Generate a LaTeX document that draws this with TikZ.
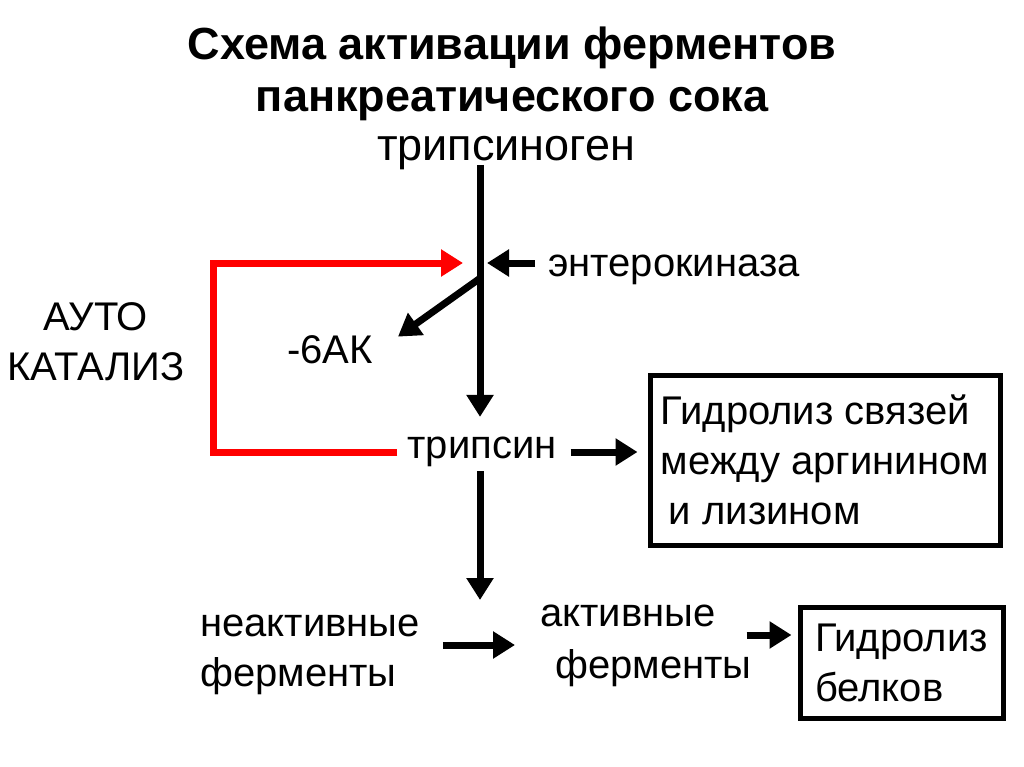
\documentclass[tikz,border=0pt]{standalone}
\usepackage{fontspec}
\setmainfont{Liberation Sans}
\usetikzlibrary{arrows.meta}

\begin{document}
\begin{tikzpicture}[x=1pt, y=-1pt,
  txt/.style={font=\fontsize{40}{50}\selectfont, inner sep=0pt},
  fleche/.style={line width=7pt, -{Triangle[length=22pt, width=26pt]}},
  retour/.style={fleche, red},
  cadre/.style={draw, line width=5pt, txt, align=left}]

\useasboundingbox (0,0) rectangle (1024,767);

% Titre
\node[font=\bfseries\fontsize{45}{52}\selectfont, align=center, inner sep=0pt] (titre) at (512,74) {Схема активации ферментов\\панкреатического сока};

% Les nœuds de texte
\node[txt, font=\fontsize{45}{50}\selectfont] (tg) at (506,153) {трипсиноген};
\node[txt, anchor=west] (ek) at (548,270) {энтерокиназа};
\node[txt] (ak) at (330,350) {-6АК};
\node[txt, align=center] (auto) at (96,342) {АУТО\\КАТАЛИЗ};
\node[txt] (tr) at (482,452) {трипсин};
\node[txt, align=left, anchor=west] (inact) at (200,655) {неактивные\\ферменты};
\node[txt, align=left, anchor=west, font=\fontsize{40}{52}\selectfont] (act) at (540,646) {активные\\\hspace*{15pt}ферменты};

% Les cadres
\node[cadre, minimum width=350pt, minimum height=170pt] (b1) at (825,460)
  {Гидролиз связей\\между аргинином\\\hspace*{8pt}и лизином};
\node[cadre, minimum width=203pt, minimum height=111pt] (b2) at (901.5,662.5)
  {Гидролиз\\белков};

% Points de jonction
\coordinate (j) at (480,263);
\coordinate (jd) at (479,279);
\coordinate (lp) at (213,263);
\coordinate (bas) at (480,600);

% Les flèches noires
\draw[fleche, shorten <=-5pt, shorten >=20pt] (tg.south -| j) -- (tr.north -| j);
\draw[fleche, shorten <=13pt, shorten >=7pt] (j -| ek.west) -- (j);
\draw[fleche] (jd) -- ([xshift=25pt, yshift=-1pt]ak.north east);
\draw[fleche, shorten <=4pt] (tr.south -| j) -- (bas);
\draw[fleche, shorten <=14pt, shorten >=10pt] (tr.east) -- (tr.east -| b1.west);
\draw[fleche, shorten <=23pt, shorten >=25pt] ([yshift=10pt]inact.east) -- ([yshift=10pt]inact.east -| act.west);
\draw[fleche, shorten <=-5pt, shorten >=6pt] ([yshift=11pt]act.east) -- ([yshift=11pt]act.east -| b2.west);

% Autocatalyse
\draw[retour, shorten >=17pt] ([xshift=-10pt]tr.west) -| (lp) -- (j);

\end{tikzpicture}
\end{document}
